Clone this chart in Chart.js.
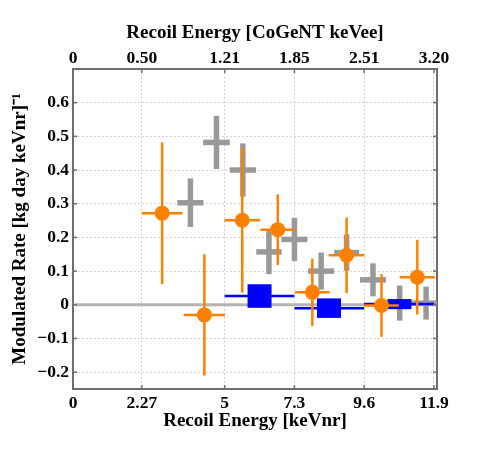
<!DOCTYPE html>
<html>
<head>
<meta charset="utf-8">
<script src="https://cdn.jsdelivr.net/npm/chart.js@4.4.0/dist/chart.umd.min.js"></script>
<style>
  body { margin: 0; background: #fff; }
</style>
</head>
<body>
<canvas id="chart" width="485" height="458"></canvas>
<script>
// Axis ticks (bottom axis in keVnr, top axis shows the same positions in CoGeNT keVee)
const xTickValues = [0, 2.27, 5, 7.3, 9.6, 11.9];
const bottomLabels = ['0', '2.27', '5', '7.3', '9.6', '11.9'];
const topLabels = ['0', '0.50', '1.21', '1.85', '2.51', '3.20'];
const yTickValues = [-0.2, -0.1, 0, 0.1, 0.2, 0.3, 0.4, 0.5, 0.6];

// Gray crosses
const grayX = [3.87, 4.73, 5.60, 6.46, 7.30, 8.18, 9.02, 9.89, 10.77, 11.64];
const grayY = [0.303, 0.482, 0.400, 0.157, 0.194, 0.100, 0.155, 0.074, 0.005, 0.005];
const grayXErr = [0.43, 0.44, 0.435, 0.42, 0.43, 0.43, 0.41, 0.43, 0.43, 0.43];
const grayYErr = [0.072, 0.079, 0.079, 0.066, 0.064, 0.055, 0.054, 0.049, 0.052, 0.049];

// Orange circles
const orangeX = [2.94, 4.33, 5.58, 6.75, 7.89, 9.02, 10.17, 11.35];
const orangeY = [0.272, -0.030, 0.251, 0.223, 0.037, 0.147, -0.002, 0.082];
const orangeXErr = [0.67, 0.68, 0.59, 0.57, 0.57, 0.59, 0.57, 0.58];
const orangeYErr = [0.21, 0.18, 0.215, 0.105, 0.10, 0.112, 0.093, 0.111];

// Blue boxes (bins in keVnr)
const blueX = [6.15, 8.44, 10.76];
const blueY = [0.026, -0.010, 0.002];
const blueBinLo = [5.0, 7.3, 9.6];
const blueBinHi = [7.3, 9.6, 11.9];
const blueYErr = [0.035, 0.029, 0.015];

const fontFamily = "'Liberation Serif', 'Times New Roman', serif";
const frameColor = '#6e6e6e';

function toPoints(xs, ys) {
  return xs.map((x, i) => ({ x: x, y: ys[i] }));
}

function strokeLine(ctx, x1, y1, x2, y2) {
  ctx.beginPath();
  ctx.moveTo(x1, y1);
  ctx.lineTo(x2, y2);
  ctx.stroke();
}

// Draws error bars (and the blue boxes) under each dataset's own points
const errorBarPlugin = {
  id: 'errorBars',
  beforeDatasetDraw(chart, args) {
    const ds = chart.data.datasets[args.index];
    const e = ds.errors;
    if (!e) return;
    const xs = chart.scales.x;
    const ys = chart.scales.y;
    const area = chart.chartArea;
    const ctx = chart.ctx;
    ctx.save();
    ctx.beginPath();
    ctx.rect(area.left, area.top, area.right - area.left, area.bottom - area.top);
    ctx.clip();
    ctx.strokeStyle = e.color;
    ctx.lineCap = 'butt';
    ds.data.forEach((p, i) => {
      const px = xs.getPixelForValue(p.x);
      const py = ys.getPixelForValue(p.y);
      ctx.lineWidth = e.width;
      strokeLine(ctx, xs.getPixelForValue(e.xLo[i]), py, xs.getPixelForValue(e.xHi[i]), py);
      ctx.lineWidth = e.boxWidth || e.width;
      strokeLine(ctx, px, ys.getPixelForValue(e.yLo[i]), px, ys.getPixelForValue(e.yHi[i]));
    });
    ctx.restore();
  }
};

// Small inward tick marks on all four sides of the frame
const innerTicksPlugin = {
  id: 'innerTicks',
  afterDraw(chart) {
    const ctx = chart.ctx;
    const area = chart.chartArea;
    const xs = chart.scales.x;
    const ys = chart.scales.y;
    ctx.save();
    ctx.strokeStyle = frameColor;
    ctx.lineWidth = 1.5;
    xTickValues.forEach(v => {
      const px = xs.getPixelForValue(v);
      strokeLine(ctx, px, area.bottom, px, area.bottom - 4);
      strokeLine(ctx, px, area.top, px, area.top + 4);
    });
    yTickValues.forEach(v => {
      const py = ys.getPixelForValue(v);
      strokeLine(ctx, area.left, py, area.left + 4, py);
      strokeLine(ctx, area.right, py, area.right - 4, py);
    });
    ctx.restore();
  }
};

const ctx = document.getElementById('chart').getContext('2d');

new Chart(ctx, {
  type: 'scatter',
  data: {
    datasets: [
      {
        label: 'orange',
        data: toPoints(orangeX, orangeY),
        backgroundColor: '#ff8000',
        borderWidth: 0,
        pointRadius: 7.5,
        order: 0,
        errors: {
          color: '#ff8000',
          width: 2.5,
          xLo: orangeX.map((x, i) => x - orangeXErr[i]),
          xHi: orangeX.map((x, i) => x + orangeXErr[i]),
          yLo: orangeY.map((y, i) => y - orangeYErr[i]),
          yHi: orangeY.map((y, i) => y + orangeYErr[i]),
        },
      },
      {
        label: 'blue',
        data: toPoints(blueX, blueY),
        pointRadius: 0,
        order: 1,
        errors: {
          color: '#0000ff',
          width: 2.5,
          boxWidth: 24,
          xLo: blueBinLo,
          xHi: blueBinHi,
          yLo: blueY.map((y, i) => y - blueYErr[i]),
          yHi: blueY.map((y, i) => y + blueYErr[i]),
        },
      },
      {
        label: 'gray',
        data: toPoints(grayX, grayY),
        pointRadius: 0,
        order: 2,
        errors: {
          color: '#999999',
          width: 5.5,
          xLo: grayX.map((x, i) => x - grayXErr[i]),
          xHi: grayX.map((x, i) => x + grayXErr[i]),
          yLo: grayY.map((y, i) => y - grayYErr[i]),
          yHi: grayY.map((y, i) => y + grayYErr[i]),
        },
      },
      {
        label: 'zero',
        data: [{ x: 0, y: 0 }, { x: 12, y: 0 }],
        showLine: true,
        borderColor: '#b3b3b3',
        borderWidth: 3,
        pointRadius: 0,
        order: 3,
      },
    ],
  },
  options: {
    responsive: false,
    animation: false,
    layout: {
      padding: { left: 0, right: 48, top: 0, bottom: 0 },
    },
    plugins: {
      legend: { display: false },
      tooltip: { enabled: false },
    },
    scales: {
      x: {
        type: 'linear',
        position: 'bottom',
        min: 0,
        max: 12,
        afterBuildTicks: scale => { scale.ticks = xTickValues.map(v => ({ value: v })); },
        afterFit: scale => { scale.height = 69; },
        ticks: {
          color: '#000',
          padding: 4,
          maxRotation: 0,
          autoSkip: false,
          font: { family: fontFamily, size: 17.5, weight: 'bold' },
          callback: (value, index) => bottomLabels[index],
        },
        grid: { color: '#c4c4c4', lineWidth: 1, drawTicks: false },
        border: { color: frameColor, width: 2, dash: [1.5, 2.5] },
        title: {
          display: true,
          text: 'Recoil Energy [keVnr]',
          color: '#000',
          padding: { top: 0, bottom: 25.6 },
          font: { family: fontFamily, size: 19, weight: 'bold' },
        },
      },
      xTop: {
        type: 'linear',
        position: 'top',
        min: 0,
        max: 12,
        afterBuildTicks: scale => { scale.ticks = xTickValues.map(v => ({ value: v })); },
        afterFit: scale => { scale.height = 69; },
        ticks: {
          color: '#000',
          padding: 0,
          maxRotation: 0,
          autoSkip: false,
          font: { family: fontFamily, size: 17.5, weight: 'bold' },
          callback: (value, index) => topLabels[index],
        },
        grid: { drawOnChartArea: false, drawTicks: false },
        border: { color: frameColor, width: 2 },
        title: {
          display: true,
          text: 'Recoil Energy [CoGeNT keVee]',
          color: '#000',
          padding: { top: 21.6, bottom: 0 },
          font: { family: fontFamily, size: 19, weight: 'bold' },
        },
      },
      y: {
        type: 'linear',
        position: 'left',
        min: -0.25,
        max: 0.7,
        afterBuildTicks: scale => { scale.ticks = yTickValues.map(v => ({ value: v })); },
        afterFit: scale => { scale.width = 73; },
        ticks: {
          color: '#000',
          padding: 4,
          font: { family: fontFamily, size: 17.5, weight: 'bold' },
          callback: value => (Math.abs(value) < 1e-9 ? '0' : value.toFixed(1).replace('-', '\u2212')),
        },
        grid: { color: '#c4c4c4', lineWidth: 1, drawTicks: false },
        border: { color: frameColor, width: 2, dash: [1.5, 2.5] },
        title: {
          display: true,
          text: 'Modulated Rate [kg day keVnr]\u207B\u00B9',
          color: '#000',
          padding: { top: 8.6, bottom: 0 },
          font: { family: fontFamily, size: 19, weight: 'bold' },
        },
      },
      yRight: {
        type: 'linear',
        position: 'right',
        min: -0.25,
        max: 0.7,
        afterFit: scale => { scale.width = 0; },
        ticks: { display: false },
        grid: { drawOnChartArea: false, drawTicks: false },
        border: { color: frameColor, width: 2 },
      },
    },
  },
  plugins: [errorBarPlugin, innerTicksPlugin],
});
</script>
</body>
</html>
